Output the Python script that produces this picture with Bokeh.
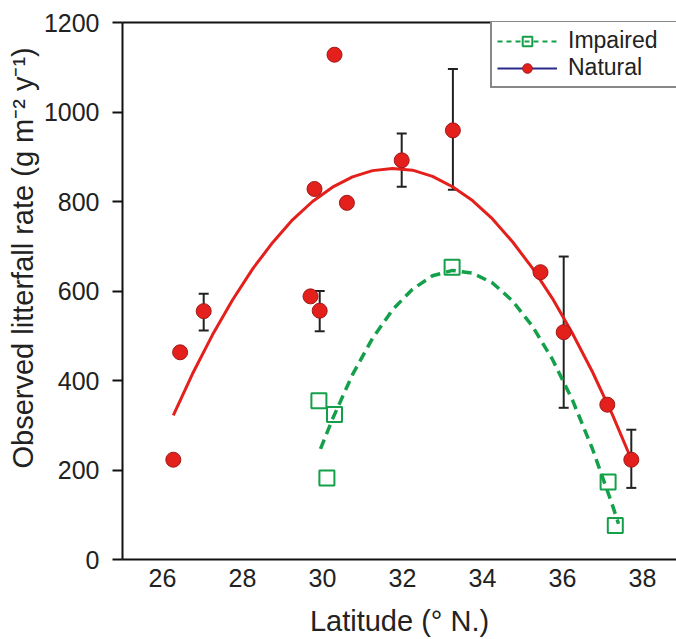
from bokeh.plotting import figure
from bokeh.models import (Range1d, Whisker, TeeHead, ColumnDataSource, Legend,
                          LegendItem, FixedTicker, Title, LinearAxis)
from bokeh.embed import file_html
from bokeh.resources import INLINE

# ---- data ----
nat_lat = [26.27, 26.44, 27.03, 29.70, 29.93, 29.80, 30.61, 30.30, 31.98, 33.26, 35.45, 36.03, 37.12, 37.72]
nat_val = [223, 463, 555, 588, 556, 828, 797, 1128, 892, 959, 642, 508, 346, 223]

err_lat = [27.03, 29.93, 31.98, 33.26, 36.03, 37.72]
err_low = [512, 510, 833, 826, 339, 160]
err_high = [594, 600, 952, 1096, 677, 290]

imp_lat = [29.91, 30.30, 30.11, 33.24, 37.14, 37.32]
imp_val = [355, 324, 182, 653, 173, 76]

# fitted curves
nat_fit_lat = [26.27, 26.75, 27.25, 27.75, 28.25, 28.75, 29.25, 29.75, 30.25, 30.75, 31.25, 31.75,
               32.25, 32.75, 33.25, 33.75, 34.25, 34.75, 35.25, 35.75, 36.25, 36.75, 37.25, 37.72]
nat_fit_val = [322, 415, 502, 580, 649, 708, 759, 800, 832, 855, 869, 874,
               870, 856, 833, 802, 761, 710, 651, 583, 505, 419, 323, 224]

imp_fit_lat = [29.95, 30.25, 30.75, 31.25, 31.75, 32.25, 32.75, 33.25, 33.75, 34.25, 34.75,
               35.25, 35.75, 36.25, 36.75, 37.25, 37.40]
imp_fit_val = [247, 314, 413, 494, 558, 604, 634, 646, 640, 618, 578,
               521, 447, 356, 247, 121, 80]

y_ticks = [0, 200, 400, 600, 800, 1000, 1200]
x_ticks = [26, 28, 30, 32, 34, 36, 38]

FONT = "Liberation Sans"
RED = "#e3201c"
GREEN = "#14a04a"
INK = "#222222"

p = figure(width=676, height=639, output_backend="svg", toolbar_location=None,
           x_range=Range1d(25, 38.85), y_range=Range1d(0, 1200),
           min_border_left=122, min_border_right=0, min_border_top=22, min_border_bottom=80)
p.xgrid.visible = False
p.ygrid.visible = False
p.outline_line_color = None
p.background_fill_color = "white"
p.border_fill_color = "white"

for ax in (p.xaxis[0], p.yaxis[0]):
    ax.axis_line_width = 2
    ax.axis_line_color = "#111111"
    ax.minor_tick_line_color = None
    ax.major_label_text_font = FONT
    ax.major_label_text_font_size = "25px"
    ax.major_label_text_color = INK
    ax.axis_label_text_font = FONT
    ax.axis_label_text_font_size = "29px"
    ax.axis_label_text_font_style = "normal"
    ax.axis_label_text_color = INK

p.xaxis.ticker = FixedTicker(ticks=x_ticks)
p.yaxis.ticker = FixedTicker(ticks=y_ticks)
p.xaxis.major_tick_line_color = None
p.xaxis.major_label_standoff = 3
p.xaxis.axis_label = "Latitude (\u00b0 N.)"
p.xaxis.axis_label_standoff = 15
p.yaxis.major_tick_out = 10
p.yaxis.major_tick_in = 0
p.yaxis.major_tick_line_width = 2
p.yaxis.major_tick_line_color = "#111111"
p.yaxis.major_label_standoff = 13

# top frame line
top_axis = LinearAxis(ticker=FixedTicker(ticks=[]), axis_line_width=2, axis_line_color="#111111",
                      major_tick_line_color=None, minor_tick_line_color=None,
                      major_label_text_font_size="0px", major_label_standoff=0)
p.add_layout(top_axis, "above")

ytitle = Title(text="Observed litterfall rate (g m\u207b\u00b2 y\u207b\u00b9)", align="left",
               offset=91, text_font=FONT, text_font_size="29px", text_font_style="normal",
               text_color=INK, standoff=4)
p.add_layout(ytitle, "left")

# curves
nat_curve = p.line(nat_fit_lat, nat_fit_val, line_color=RED, line_width=3)
imp_curve = p.line(imp_fit_lat, imp_fit_val, line_color=GREEN, line_width=3.5, line_dash="10 6")

# error bars
err_src = ColumnDataSource(dict(x=err_lat, lower=err_low, upper=err_high))
w = Whisker(base="x", lower="lower", upper="upper", source=err_src,
            line_color=INK, line_width=2,
            upper_head=TeeHead(size=10, line_color=INK, line_width=2),
            lower_head=TeeHead(size=10, line_color=INK, line_width=2))
p.add_layout(w)

# points
imp_pts = p.scatter(imp_lat, imp_val, marker="square", size=15, fill_color=None,
                    line_color=GREEN, line_width=2)
nat_pts = p.scatter(nat_lat, nat_val, marker="circle", size=15, fill_color=RED,
                    line_color="#a01818", line_width=1)

# legend-only renderers (kept outside the visible range)
imp_leg_line = p.line([0, 0.5], [-100, -100], line_color=GREEN, line_width=2, line_dash="5 4")
imp_leg_pt = p.scatter([0], [-100], marker="square", size=17, fill_color=None,
                       line_color=GREEN, line_width=2)
nat_leg_line = p.line([0, 0.5], [-100, -100], line_color="#2a2a8a", line_width=2)
nat_leg_pt = p.scatter([0], [-100], marker="circle", size=17, fill_color=RED,
                       line_color="#a01818", line_width=1)

legend = Legend(items=[LegendItem(label="Impaired", renderers=[imp_leg_line, imp_leg_pt]),
                       LegendItem(label="Natural", renderers=[nat_leg_line, nat_leg_pt])],
                location=(368, 471), margin=0, padding=5, spacing=0,
                glyph_width=60, glyph_height=24, label_standoff=11, label_width=106,
                label_text_font=FONT, label_text_font_size="23px",
                label_text_color=INK, label_height=24,
                border_line_color="#111111", border_line_width=2,
                background_fill_alpha=1)
p.add_layout(legend)

open("out.html", "w").write(file_html(p, INLINE))
